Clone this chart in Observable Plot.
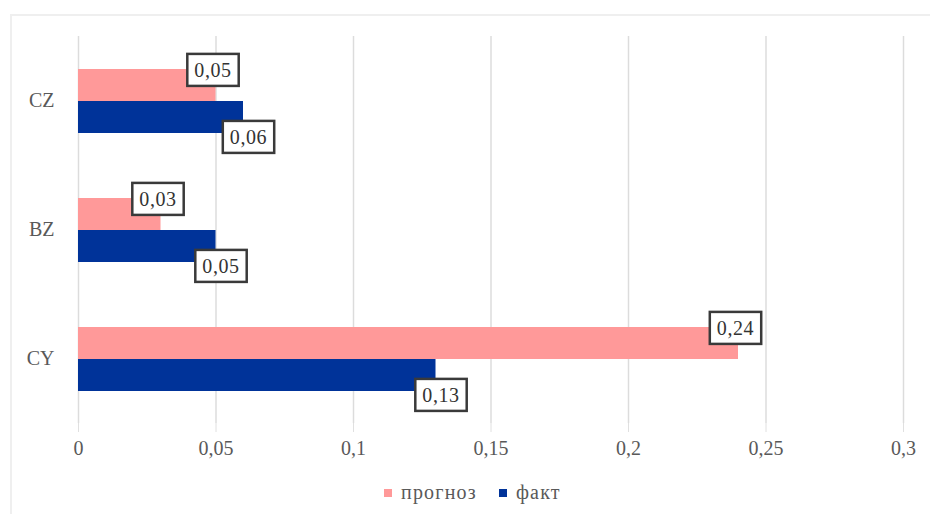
<!DOCTYPE html>
<html>
<head>
<meta charset="utf-8">
<script src="https://cdn.jsdelivr.net/npm/d3@7"></script>
<script src="https://cdn.jsdelivr.net/npm/@observablehq/plot@0.6"></script>
<style>
  html, body { margin: 0; padding: 0; background: #fff; }
  body { width: 930px; height: 514px; position: relative; overflow: hidden; font-family: "Liberation Serif", "DejaVu Serif", serif; }
  #frame { position: absolute; left: 10px; top: 14px; width: 940px; height: 520px; border: 2px solid #efefef; box-sizing: border-box; }
  #chart { position: absolute; left: 0; top: 0; }
  #chart svg { background: transparent !important; font-family: "Liberation Serif", serif; }
  #legend { position: absolute; left: 384px; top: 481px; display: flex; align-items: center; font-size: 20px; letter-spacing: 1.2px; color: #595959; font-family: "Liberation Serif", serif; }
  #legend .item { display: flex; align-items: center; margin-right: 22px; }
  #legend .sw { width: 8px; height: 8px; margin-right: 9px; }
</style>
</head>
<body>
<div id="frame"></div>
<div id="chart"></div>
<div id="legend"></div>
<script>
const categories = ["CZ", "BZ", "CY"];
const series = ["прогноз", "факт"];
const forecast = [0.05, 0.03, 0.24];
const actual = [0.06, 0.05, 0.13];
const xTicks = [0, 0.05, 0.1, 0.15, 0.2, 0.25, 0.3];
const colors = ["#ff9999", "#003399"];

const rows = [];
categories.forEach((c, i) => {
  rows.push({category: c, series: series[0], value: forecast[i]});
  rows.push({category: c, series: series[1], value: actual[i]});
});
const fmt = d => String(d).replace(".", ",");

const plot = Plot.plot({
  width: 930,
  height: 470,
  marginLeft: 78,
  marginRight: 27,
  marginTop: 36,
  marginBottom: 47,
  style: {fontFamily: "'Liberation Serif', serif", background: "transparent"},
  x: {domain: [0, 0.3]},
  y: {domain: series, paddingInner: 0, paddingOuter: 0.955, axis: null},
  fy: {domain: categories, padding: 0, label: null},
  color: {domain: series, range: colors},
  marks: [
    Plot.gridX(xTicks, {stroke: "#dcdcdc", strokeOpacity: 1, strokeWidth: 1.5}),
    Plot.axisX({ticks: xTicks, tickFormat: fmt, tickSize: 9, stroke: "#e0e0e0", tickPadding: 8, fontSize: 20, fill: "#595959", label: null}),
    Plot.axisFy({anchor: "left", tickSize: 0, tickPadding: 24, fontSize: 20, fill: "#595959", label: null}),
    Plot.barX(rows, {x: "value", y: "series", fy: "category", fill: "series"}),
    Plot.text(rows.filter(d => d.series === series[0]), {x: "value", y: "series", fy: "category", text: d => fmt(d.value), dy: -15, dx: -3, fontSize: 20, fill: "#333"}),
    Plot.text(rows.filter(d => d.series === series[1]), {x: "value", y: "series", fy: "category", text: d => fmt(d.value), dy: 20, dx: 5, fontSize: 20, fill: "#333"})
  ]
});
document.getElementById("chart").appendChild(plot);

// boxes behind data labels
plot.querySelectorAll('g[aria-label="text"] text').forEach(t => {
  t.setAttribute("letter-spacing", "0.6");
  const b = t.getBBox();
  const r = document.createElementNS("http://www.w3.org/2000/svg", "rect");
  const h = 32;
  r.setAttribute("x", b.x - 7);
  r.setAttribute("y", b.y + b.height / 2 - h / 2);
  r.setAttribute("width", b.width + 14);
  r.setAttribute("height", h);
  r.setAttribute("fill", "white");
  r.setAttribute("stroke", "#3a3a3a");
  r.setAttribute("stroke-width", "2.5");
  const tr = t.getAttribute("transform");
  if (tr) r.setAttribute("transform", tr);
  t.parentNode.insertBefore(r, t);
});

const legend = document.getElementById("legend");
series.forEach((s, i) => {
  const it = document.createElement("div");
  it.className = "item";
  const sw = document.createElement("div");
  sw.className = "sw";
  sw.style.background = colors[i];
  const lb = document.createElement("span");
  lb.textContent = s;
  it.appendChild(sw); it.appendChild(lb);
  legend.appendChild(it);
});
</script>
</body>
</html>
